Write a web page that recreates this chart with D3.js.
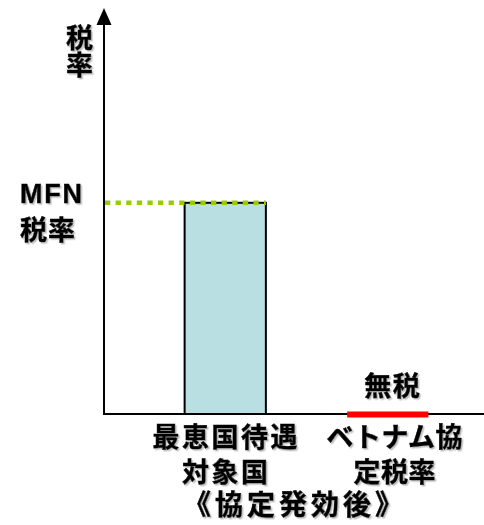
<!DOCTYPE html>
<html>
<head>
<meta charset="utf-8">
<script src="https://cdn.jsdelivr.net/npm/d3@7"></script>
<style>
  body { margin: 0; background: #fff; }
  text { font-family: "Liberation Sans", "Noto Sans CJK JP", sans-serif; font-weight: bold; fill: #000; stroke: #000; stroke-width: 0.5; }
</style>
</head>
<body>
<div id="container"></div>
<script>
var totalWidth = 484, totalHeight = 525;

// data
var categories = ['最恵国待遇', 'ベトナム協定'];
var categoryLabels = [['最恵国待遇', '対象国'], ['ベトナム協', '定税率']];
var rates = [55, 0];          // MFN税率 (相対値), 無税
var mfnRate = 55;
var mfnLabel = ['MFN', '税率'];
var yTitle = '税率';
var zeroLabel = '無税';
var caption = '《協定発効後》';

var x0 = 104, yBase = 414, yTop = 30;

var xScale = d3.scaleBand()
  .domain(categories)
  .range([144, 469])
  .paddingInner(0.5)
  .paddingOuter(0.25);

var yScale = d3.scaleLinear()
  .domain([0, 100])
  .range([yBase, yTop]);

var svg = d3.select("#container").append("svg")
  .attr("width", totalWidth)
  .attr("height", totalHeight);

// 薄い影
var f = svg.append("defs").append("filter").attr("id", "sh")
  .attr("x", "-10%").attr("y", "-10%").attr("width", "130%").attr("height", "130%");
f.append("feDropShadow").attr("dx", 1.5).attr("dy", 1.5)
  .attr("stdDeviation", 0.6).attr("flood-color", "#888").attr("flood-opacity", 0.55);

// bars
svg.append("g").selectAll("rect")
  .data(rates.filter(function(d) { return d > 0; }))
  .enter().append("rect")
  .attr("x", function(d, i) { return xScale(categories[i]); })
  .attr("width", xScale.bandwidth())
  .attr("y", function(d) { return yScale(d); })
  .attr("height", function(d) { return yBase - yScale(d); })
  .attr("fill", "#b9dfe2")
  .attr("stroke", "#000")
  .attr("stroke-width", 2);

// y axis line + arrow
svg.append("line")
  .attr("x1", x0).attr("x2", x0)
  .attr("y1", yBase + 1).attr("y2", 20)
  .attr("stroke", "#000").attr("stroke-width", 2);
svg.append("path")
  .attr("d", "M" + x0 + ",8L" + (x0 + 7.5) + ",25L" + (x0 - 7.5) + ",25Z")
  .attr("fill", "#000");

// x axis line
svg.append("line")
  .attr("x1", x0 - 1).attr("x2", totalWidth)
  .attr("y1", yBase).attr("y2", yBase)
  .attr("stroke", "#000").attr("stroke-width", 2);

// MFN dotted line
svg.append("line")
  .attr("x1", x0 + 1)
  .attr("x2", xScale(categories[0]) + xScale.bandwidth())
  .attr("y1", yScale(mfnRate)).attr("y2", yScale(mfnRate))
  .attr("stroke", "#99cc00").attr("stroke-width", 4.5)
  .attr("stroke-dasharray", "5.3,5.3");

// 無税 red line
svg.append("line")
  .attr("x1", xScale(categories[1]))
  .attr("x2", xScale(categories[1]) + xScale.bandwidth())
  .attr("y1", yBase + 0.5).attr("y2", yBase + 0.5)
  .attr("stroke", "#ff0000").attr("stroke-width", 6);

var labels = svg.append("g").attr("filter", "url(#sh)");

function multiline(x, y, lines, pitch, size, spacing) {
  var t = labels.append("text")
    .attr("text-anchor", "middle").attr("font-size", size)
    .attr("letter-spacing", spacing || 0);
  t.selectAll("tspan").data(lines).enter().append("tspan")
    .attr("x", x)
    .attr("y", function(d, i) { return y + i * pitch; })
    .text(function(d) { return d; });
  return t;
}

// y title (縦書き)
labels.append("text")
  .attr("x", 77).attr("y", 24)
  .attr("writing-mode", "tb")
  .attr("text-anchor", "start")
  .attr("font-size", 27)
  .attr("letter-spacing", 0)
  .text(yTitle);

// MFN label
labels.append("text")
  .attr("x", 51).attr("y", yScale(mfnRate))
  .attr("text-anchor", "middle")
  .attr("font-size", 27)
  .attr("stroke-width", 0)
  .attr("textLength", 62)
  .text(mfnLabel[0]);
multiline(48, yScale(mfnRate) + 37, [mfnLabel[1]], 0, 27, 1);

// category labels
categoryLabels.forEach(function(lines, ci) {
  var cx = xScale(categories[ci]) + xScale.bandwidth() / 2 + (ci === 1 ? 6 : 0);
  multiline(cx + 1, 447, lines, 35, 27, ci === 1 ? 0.5 : 2.5);
});

// 無税
multiline(xScale(categories[1]) + xScale.bandwidth() / 2 + 5, 396, [zeroLabel], 0, 27, 1.5);

// caption
multiline(295, 515, [caption], 0, 28, 4);
</script>
</body>
</html>
